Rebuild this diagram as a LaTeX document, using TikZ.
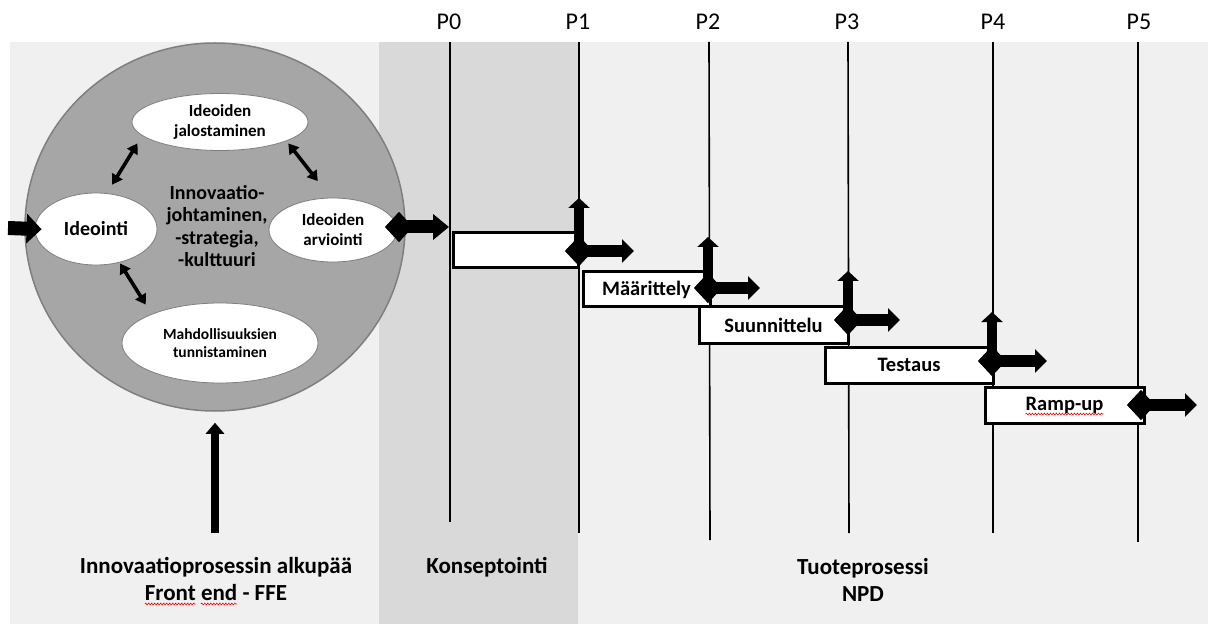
\documentclass[tikz,border=0pt]{standalone}
\usepackage{fontspec}
\setmainfont{Carlito}
\usetikzlibrary{shapes.geometric,arrows.meta,decorations.pathmorphing}

\definecolor{panelgrey}{HTML}{F0F0F0}
\definecolor{bandgrey}{HTML}{D9D9D9}
\definecolor{circgrey}{HTML}{A6A6A6}
\definecolor{rimgrey}{HTML}{7F7F7F}

\newlength\wordfrontwd
\newlength\wordendwd
\newlength\wordbothwd
\newcommand\capfont{\bfseries\fontsize{23}{27}\selectfont}

\begin{document}
\settowidth{\wordfrontwd}{\capfont Front}
\settowidth{\wordendwd}{\capfont end}
\settowidth{\wordbothwd}{\capfont Front end}
\begin{tikzpicture}[x=1pt,y=-1pt,
  plabel/.style={font=\fontsize{24}{28}\selectfont, inner sep=0pt},
  gate/.style={line width=1.6pt, black},
  bigcircle/.style={ellipse, draw=rimgrey, line width=1.5pt, fill=circgrey, inner sep=0pt},
  bubble/.style={ellipse, draw=rimgrey, line width=0.8pt, fill=white, inner sep=0pt, align=center},
  phasebox/.style={draw=black, line width=3pt, fill=white, inner sep=0pt, minimum height=35pt,
    font=\bfseries\fontsize{20.5}{23}\selectfont},
  boxtext/.style={inner sep=0pt, font=\bfseries\fontsize{20.5}{23}\selectfont},
  milestone/.style={diamond, fill=black, inner sep=0pt, minimum width=28pt, minimum height=30pt},
  markright/.style={line width=12pt, -{Triangle[length=12pt,width=23pt]}},
  markup/.style={line width=10pt, -{Triangle[length=10pt,width=21pt]}},
  feedarrow/.style={line width=14pt, -{Triangle[length=15pt,width=29pt]}},
  outarrow/.style={line width=13pt, -{Triangle[length=16pt,width=25pt]}},
  stemarrow/.style={line width=8pt, -{Triangle[length=11pt,width=18pt]}},
  biarrow/.style={line width=3.6pt, {Triangle[length=10pt,width=12pt]}-{Triangle[length=10pt,width=12pt]}},
  caption/.style={align=center, font=\capfont, inner sep=0pt},
  spell/.style={red, line width=0.6pt, decorate, decoration={snake, amplitude=0.9pt, segment length=3pt}}
]
\useasboundingbox (0,0) rectangle (1218,628);

% backgrounds
\fill[panelgrey] (10,42) rectangle (1208,624);
\fill[bandgrey] (379,42) rectangle (578,624);

% gate labels and gate lines
\node[plabel] (p0) at (449,22) {P0};
\node[plabel] (p1) at (578,22) {P1};
\node[plabel] (p2) at (708,22) {P2};
\node[plabel] (p3) at (847,22) {P3};
\node[plabel] (p4) at (993,22) {P4};
\node[plabel] (p5) at (1139,22) {P5};

\coordinate (g0t) at (450,42);  \coordinate (g0b) at (450,522);
\coordinate (g1t) at (579,42);  \coordinate (g1b) at (579,533);
\coordinate (g2t) at (709,42);  \coordinate (g2b) at (710,540);
\coordinate (g3t) at (848,42);  \coordinate (g3b) at (849,533);
\coordinate (g4t) at (993,42);  \coordinate (g4b) at (993,533);
\coordinate (g5t) at (1138,42); \coordinate (g5b) at (1138,542);
\foreach \g in {0,...,5} \draw[gate] (g\g t) -- (g\g b);

% front end circle
\node[bigcircle, minimum width=380pt, minimum height=368pt] (fe) at (215,227) {};
\node[align=center, inner sep=0pt, font=\bfseries\fontsize{20}{22.5}\selectfont] (mgmt) at (217,226)
  {Innovaatio-\\johtaminen,\\-strategia,\\-kulttuuri};

\node[bubble, minimum width=176pt, minimum height=57pt, font=\bfseries\fontsize{17}{20}\selectfont]
  (jal) at (220,122) {Ideoiden\\jalostaminen};
\node[bubble, minimum width=122pt, minimum height=72pt, font=\bfseries\fontsize{20}{22}\selectfont]
  (ideo) at (96,229) {Ideointi};
\node[bubble, minimum width=128pt, minimum height=64pt, font=\bfseries\fontsize{17}{20}\selectfont]
  (arv) at (333,230) {Ideoiden\\arviointi};
\node[bubble, minimum width=196pt, minimum height=80pt, font=\bfseries\fontsize{15.5}{18.5}\selectfont]
  (mah) at (220,343) {Mahdollisuuksien\\tunnistaminen};

\draw[biarrow, shorten <=10pt, shorten >=9pt] (ideo.73) -- (jal.190);
\draw[biarrow, shorten <=3pt, shorten >=21pt] (jal.344) -- (arv.94);
\draw[biarrow, shorten <=1pt, shorten >=11pt] (ideo.305) -- (mah.157);

% input into the front end and the support from below
\coordinate (inleft) at (8,228);
\draw[feedarrow, shorten >=-7pt] (inleft) -- (ideo.west);
\coordinate (stembase) at (215,533);
\draw[stemarrow, shorten >=11pt] (stembase) -- (fe.south);

% output from evaluation
\node[milestone] (dA) at (399,227) {};
\coordinate (dAr) at (449,227);
\draw[outarrow] (dA.center) -- (dAr);
\node[milestone] at (dA) {};

% phase boxes
\node[phasebox, minimum width=125pt] (b0) at (515.5,250.5) {};
\node[phasebox, minimum width=127pt] (b1) at (646.5,289.5) {Määrittely};
\node[phasebox, minimum width=149pt, minimum height=36pt] (b2) at (773.5,325) {Suunnittelu};
\node[phasebox, minimum width=168pt, minimum height=36pt] (b3) at (909,365) {Testaus};
\node[phasebox, minimum width=159pt, minimum height=36pt] (b4) at (1064.5,405) {};
\node[boxtext] (rampup) at (b4) {Ramp-up};
\draw[spell] ([yshift=-4pt]rampup.base west) -- ([yshift=-4pt]rampup.base east);

% milestone markers at the gates
\coordinate (m1u) at (579,198);  \coordinate (m1r) at (634,251);
\coordinate (m2u) at (708,237);  \coordinate (m2r) at (760,288);
\coordinate (m3u) at (848,271);  \coordinate (m3r) at (900,320);
\coordinate (m4u) at (992,312);  \coordinate (m4r) at (1047,361);
\coordinate (m5r) at (1197,405);

\node[milestone] (m1) at (579,251) {};
\node[milestone] (m2) at (708,288) {};
\node[milestone] (m3) at (848,320) {};
\node[milestone] (m4) at (992,361) {};
\node[milestone] (m5) at (1141,405) {};

\foreach \m in {1,...,4} {
  \draw[markup] (m\m.center) -- (m\m u);
  \draw[markright] (m\m.center) -- (m\m r);
  \node[milestone] at (m\m) {};
}
\draw[markright] (m5.center) -- (m5r);
\node[milestone] at (m5) {};

% captions
\node[caption, anchor=base] (capfe1) at (216,573) {Innovaatioprosessin alkupää};
\node[caption, anchor=base] (capfe2) at (216,600) {Front end - FFE};
\draw[spell] ([yshift=-4pt]capfe2.base west) -- ([xshift=\wordfrontwd,yshift=-4pt]capfe2.base west);
\draw[spell] ([xshift={\wordbothwd-\wordendwd},yshift=-4pt]capfe2.base west)
  -- ([xshift=\wordbothwd,yshift=-4pt]capfe2.base west);
\node[caption, anchor=base] (capk) at (487,573) {Konseptointi};
\node[caption, anchor=base] (capn1) at (863,574) {Tuoteprosessi};
\node[caption, anchor=base] (capn2) at (863,601) {NPD};
\end{tikzpicture}
\end{document}
